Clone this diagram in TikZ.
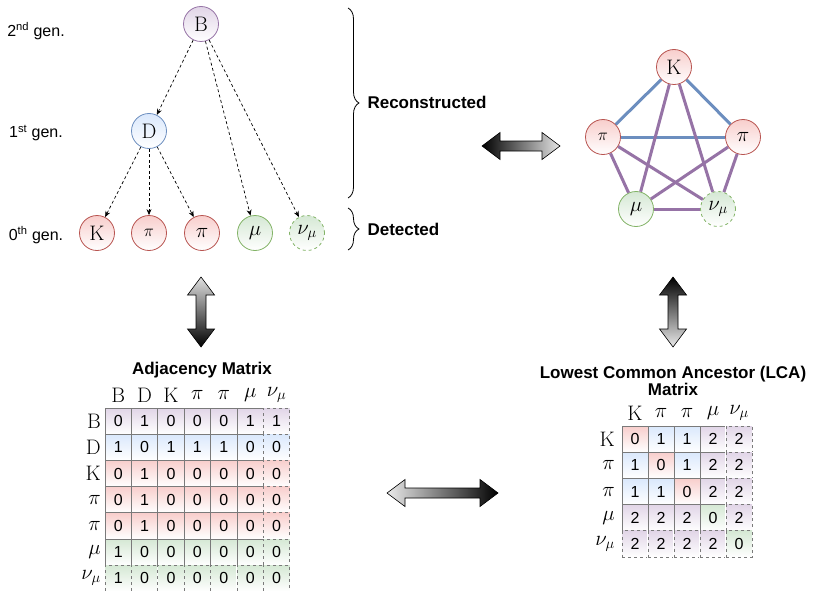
\RequirePackage{fix-cm}
\documentclass[tikz,border=0pt]{standalone}
\usepackage{fontspec}
\setsansfont{Liberation Sans}
\usetikzlibrary{arrows.meta,decorations.pathreplacing}
\definecolor{redfill}{HTML}{F8CECC}
\definecolor{redline}{HTML}{B85450}
\definecolor{bluefill}{HTML}{DAE8FC}
\definecolor{blueline}{HTML}{6C8EBF}
\definecolor{greenfill}{HTML}{D5E8D4}
\definecolor{greenline}{HTML}{82B366}
\definecolor{purpfill}{HTML}{E1D5E7}
\definecolor{purpline}{HTML}{9673A6}
\definecolor{cellline}{HTML}{7A7A7A}
\tikzset{
  pics/harrow/.style n args={3}{code={
    \path[draw=black, line width=.6pt, left color=#2, right color=#3]
      (-#1,0) -- ++(18,-13.5) -- ++(0,8.5) -- (#1-18,-5) -- ++(0,-8.5)
      -- (#1,0) -- ++(-18,13.5) -- ++(0,-8.5) -- (-#1+18,5) -- ++(0,8.5) -- cycle;
  }},
  pics/varrow/.style n args={3}{code={
    \path[draw=black, line width=.6pt, top color=#2, bottom color=#3]
      (0,-#1) -- ++(13.5,18) -- ++(-8.5,0) -- (5,#1-18) -- ++(8.5,0)
      -- (0,#1) -- ++(-13.5,-18) -- ++(8.5,0) -- (-5,-#1+18) -- ++(-8.5,0) -- cycle;
  }},
}
\begin{document}
\begin{tikzpicture}[x=1pt, y=-1pt,
  part/.style={circle, minimum size=35pt, inner sep=0pt, line width=.8pt, font=\fontsize{21}{21}\selectfont},
  redpart/.style={part, draw=redline, top color=redfill, bottom color=white},
  bluepart/.style={part, draw=blueline, top color=bluefill, bottom color=white},
  greenpart/.style={part, draw=greenline, top color=greenfill, bottom color=white},
  purppart/.style={part, draw=purpline, top color=purpfill, bottom color=white},
  small/.style={font=\fontsize{17}{17}\selectfont},
  decay/.style={dash pattern=on 3pt off 2.5pt, line width=.7pt, -{Stealth[length=6pt, width=5pt]}},
  blueedge/.style={draw=blueline, line width=3pt},
  purpedge/.style={draw=purpline, line width=3pt},
  genlabel/.style={font=\sffamily\fontsize{16}{16}\selectfont},
  bracelabel/.style={anchor=west, font=\sffamily\bfseries\fontsize{17}{17}\selectfont},
  title/.style={align=center, font=\sffamily\bfseries\fontsize{17}{17}\selectfont},
  mathlabel/.style={inner sep=0pt, font=\fontsize{21}{21}\selectfont},
  cell/.style={draw=cellline, line width=.8pt, minimum width=26.4pt, minimum height=26.2pt,
    inner sep=0pt, font=\sffamily\fontsize{16}{16}\selectfont},
  dcell/.style={cell, dashed, preaction={draw=white, solid, line width=1.2pt}},
  red cell/.style={top color=redfill, bottom color=white},
  blue cell/.style={top color=bluefill, bottom color=white},
  green cell/.style={top color=greenfill, bottom color=white},
  purp cell/.style={top color=purpfill, bottom color=white},
]
\useasboundingbox (0,0) rectangle (813,591);

\node[genlabel] (gen2) at (36,31) {2\textsuperscript{nd} gen.};
\node[genlabel] (gen1) at (36,133) {1\textsuperscript{st} gen.};
\node[genlabel] (gen0) at (36,235) {0\textsuperscript{th} gen.};

\node[purppart] (B) at (201,24) {$\mathrm{B}$};
\node[bluepart] (D) at (149,131) {$\mathrm{D}$};
\node[redpart] (K) at (97,233) {$\mathrm{K}$};
\node[redpart, small] (Pa) at (149,233) {$\pi$};
\node[redpart] (Pb) at (202,233) {$\pi$};
\node[greenpart] (Mu) at (255,233) {$\mu$};
\node[greenpart, dashed] (Nu) at (307,233) {$\nu_\mu$};
\draw[decay] (B) -- (D);
\draw[decay] (B) -- (Mu);
\draw[decay] (B) -- (Nu);
\draw[decay] (D) -- (K);
\draw[decay] (D) -- (Pa);
\draw[decay] (D) -- (Pb);

\coordinate (recA) at (348,8);
\coordinate (recB) at (348,198);
\coordinate (detA) at (348,208);
\coordinate (detB) at (348,250);
\draw[decorate, decoration={brace, amplitude=11pt}, line width=.8pt] (recA) -- (recB);
\draw[decorate, decoration={brace, amplitude=11pt}, line width=.8pt] (detA) -- (detB);
\node[bracelabel] (rec) at (364,102) {Reconstructed};
\node[bracelabel] (det) at (364,229) {Detected};

\node[redpart] (gK) at (674,67) {$\mathrm{K}$};
\node[redpart, small] (gPa) at (603,137) {$\pi$};
\node[redpart] (gPb) at (743,137) {$\pi$};
\node[greenpart] (gMu) at (636,209) {$\mu$};
\node[greenpart, dashed] (gNu) at (718,209) {$\nu_\mu$};
\draw[blueedge] (gK) -- (gPa);
\draw[blueedge] (gK) -- (gPb);
\draw[blueedge] (gPa) -- (gPb);
\foreach \a/\b in {gK/gMu, gK/gNu, gPa/gMu, gPa/gNu, gPb/gMu, gPb/gNu, gMu/gNu}
  \draw[purpedge] (\a) -- (\b);

\pic (arrTop) at (521,146) {harrow={39}{black}{white!90!black}};
\pic (arrLeft) at (201,312) {varrow={35}{white!88!black}{black}};
\pic (arrRight) at (673,312) {varrow={35}{black}{white!92!black}};
\pic (arrBottom) at (442.5,493) {harrow={55.5}{white!92!black}{black}};

\node[title] (adjtitle) at (202,370) {Adjacency Matrix};
\foreach \lab [count=\col from 0] in {\mathrm{B},\mathrm{D},\mathrm{K},\pi,\pi,\mu,\nu_\mu}
  \node[mathlabel] (ah\col) at (118.2+26.4*\col,395) {$\lab$};
\foreach \lab/\clr/\vals [count=\row from 0] in {
    \mathrm{B}/purp/{0,1,0,0,0,1,1},
    \mathrm{D}/blue/{1,0,1,1,1,0,0},
    \mathrm{K}/red/{0,1,0,0,0,0,0},
    \pi/red/{0,1,0,0,0,0,0},
    \pi/red/{0,1,0,0,0,0,0},
    \mu/green/{1,0,0,0,0,0,0},
    \nu_\mu/green/{1,0,0,0,0,0,0}} {
  \node[mathlabel, anchor=east] (ar\row) at (101,421.1+26.2*\row) {$\lab$};
  \foreach \v [count=\col from 0] in \vals {
    \ifnum\col=6 \def\lst{dcell}\else\ifnum\row=6 \def\lst{dcell}\else\def\lst{cell}\fi\fi
    \node[\lst, \clr\space cell] (a\row-\col) at (118.2+26.4*\col,421.1+26.2*\row) {\v};
  }
}

\node[title] (lcatitle) at (673,381) {Lowest Common Ancestor (LCA)\\Matrix};
\foreach \lab [count=\col from 0] in {\mathrm{K},\pi,\pi,\mu,\nu_\mu}
  \node[mathlabel] (lh\col) at (635+26*\col,413) {$\lab$};
\foreach \lab/\vals [count=\row from 0] in {
    \mathrm{K}/{0/red,1/blue,1/blue,2/purp,2/purp},
    \pi/{1/blue,0/red,1/blue,2/purp,2/purp},
    \pi/{1/blue,1/blue,0/red,2/purp,2/purp},
    \mu/{2/purp,2/purp,2/purp,0/green,2/purp},
    \nu_\mu/{2/purp,2/purp,2/purp,2/purp,0/green}} {
  \node[mathlabel, anchor=east] (lr\row) at (615,439.1+26.2*\row) {$\lab$};
  \foreach \v/\clr [count=\col from 0] in \vals {
    \ifnum\col=4 \def\lst{dcell}\else\ifnum\row=4 \def\lst{dcell}\else\def\lst{cell}\fi\fi
    \node[\lst, \clr\space cell, minimum width=26pt] (l\row-\col) at (635+26*\col,439.1+26.2*\row) {\v};
  }
}
\end{tikzpicture}
\end{document}
